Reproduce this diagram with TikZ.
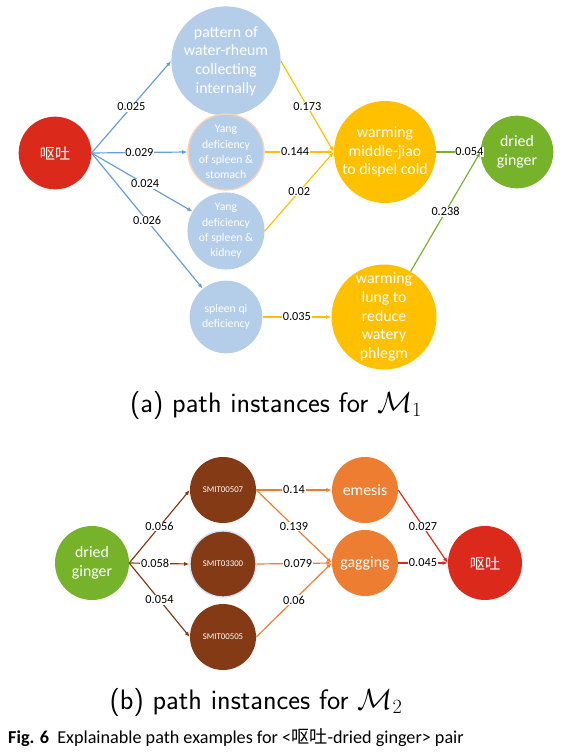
\documentclass[tikz,border=0pt]{standalone}
\usepackage{fontspec}
\usepackage{amsmath,amssymb}
\usetikzlibrary{arrows.meta,positioning}
\newfontfamily\calib{Carlito}
\newfontfamily\cjk{Noto Sans CJK SC}
\definecolor{pale}{RGB}{180,205,232}
\definecolor{skyline}{RGB}{100,158,214}
\definecolor{vred}{RGB}{219,41,28}
\definecolor{gold}{RGB}{255,192,0}
\definecolor{leaf}{RGB}{118,178,42}
\definecolor{rust}{RGB}{132,58,20}
\definecolor{tang}{RGB}{237,125,49}

\begin{document}
\begin{tikzpicture}[
    x=0.3mm, y=-0.3mm,
    circ/.style={circle, inner sep=0pt, text=white, align=center, font=\calib\fontsize{13.5}{16}\selectfont},
    big/.style={circ, minimum size=30.6mm},
    mid/.style={circ, minimum size=21.8mm, font=\calib\fontsize{10}{13}\selectfont},
    sml/.style={circ, minimum size=19.8mm},
    lbl/.style={fill=white, text=black, inner sep=0.6pt, font=\calib\fontsize{10.5}{12}\selectfont},
    edge/.style={line width=1pt, -{Latex[length=4.5pt,width=3.5pt]}}
  ]
    \useasboundingbox (0,0) rectangle (574,752);

    % (a) first meta-path
    \node[circ, minimum size=21.8mm, fill=vred, font=\cjk\fontsize{13}{15}\selectfont] (vomit) at (55,153) {呕吐};
    \node[big, fill=pale] (pattern) at (226,61) {pattern of\\water-rheum\\collecting\\internally};
    \node[mid, fill=pale, draw=tang!35, line width=1.2pt] (yangst) at (226,152) {Yang\\deficiency\\of spleen \&\\stomach};
    \node[mid, fill=pale] (yangkd) at (226,231) {Yang\\deficiency\\of spleen \&\\kidney};
    \node[mid, fill=pale] (spqi) at (226,317) {spleen qi\\deficiency};
    \node[big, fill=gold] (warmmid) at (385,152) {warming\\middle-jiao\\to dispel cold};
    \node[big, fill=gold] (warmlung) at (384,317) {warming\\lung to\\reduce\\watery\\phlegm};
    \node[circ, minimum size=21.8mm, fill=leaf] (ginger) at (517,152) {dried\\ginger};

    \draw[edge, skyline] (vomit.east) -- node[lbl]{0.025} (pattern.west);
    \draw[edge, skyline] (vomit.east) -- node[lbl]{0.029} (yangst.west);
    \draw[edge, skyline] (vomit.east) -- node[lbl, pos=0.53]{0.024} (yangkd);
    \draw[edge, skyline] (vomit.east) -- node[lbl]{0.026} (spqi);
    \draw[edge, gold] (pattern.east) -- node[lbl]{0.173} (warmmid.west);
    \draw[edge, gold] (yangst.east) -- node[lbl, pos=0.44]{0.144} (warmmid.west);
    \draw[edge, gold] (yangkd.east) -- node[lbl]{0.02} (warmmid.west);
    \draw[edge, gold] (spqi.east) -- node[lbl]{0.035} (warmlung.west);
    \draw[edge, leaf] (warmmid.east) -- node[lbl, pos=0.75]{0.054} (ginger.west);
    \draw[edge, leaf] (warmlung) -- node[lbl]{0.238} (ginger.west);

    \node[font=\sffamily\fontsize{24}{28}\selectfont] (capa) at (276,405) {(a) path instances for $\mathcal{M}_1$};

    % (b) second meta-path
    \node[circ, minimum size=22.2mm, fill=leaf] (gingerb) at (92,563) {dried\\ginger};
    \node[sml, fill=rust, font=\calib\fontsize{7.5}{9}\selectfont] (smita) at (223,490) {SMIT00507};
    \node[sml, fill=rust, draw=skyline!30, line width=1.2pt, font=\calib\fontsize{7.5}{9}\selectfont] (smitb) at (223,564) {SMIT03300};
    \node[sml, fill=rust, font=\calib\fontsize{7.5}{9}\selectfont] (smitc) at (223,637) {SMIT00505};
    \node[sml, fill=tang] (emesis) at (365,490) {emesis};
    \node[sml, fill=tang] (gagging) at (365,563) {gagging};
    \node[circ, minimum size=22.2mm, fill=vred, font=\cjk\fontsize{13}{15}\selectfont] (vomitb) at (485,563) {呕吐};

    \draw[edge, rust] (gingerb.east) -- node[lbl]{0.056} (smita.west);
    \draw[edge, rust] (gingerb.east) -- node[lbl, pos=0.43]{0.058} (smitb.west);
    \draw[edge, rust] (gingerb.east) -- node[lbl]{0.054} (smitc.west);
    \draw[edge, tang] (smita.east) -- node[lbl]{0.14} (emesis.west);
    \draw[edge, tang] (smita.east) -- node[lbl]{0.139} (gagging.west);
    \draw[edge, tang] (smitb.east) -- node[lbl, pos=0.55]{0.079} (gagging.west);
    \draw[edge, tang] (smitc.east) -- node[lbl]{0.06} (gagging.west);
    \draw[edge, vred] (emesis.east) -- node[lbl]{0.027} (vomitb.west);
    \draw[edge, vred] (gagging.east) -- node[lbl]{0.045} (vomitb.west);

    \node[font=\sffamily\fontsize{24}{28}\selectfont] (capb) at (256,702) {(b) path instances for $\mathcal{M}_2$};

    \node[anchor=west, inner sep=0pt, font=\calib\fontsize{15.5}{18}\selectfont] (fig) at (8,738)
      {\textbf{Fig. 6}\ \ Explainable path examples for <{\cjk 呕吐}-dried ginger> pair};
  \end{tikzpicture}
\end{document}
